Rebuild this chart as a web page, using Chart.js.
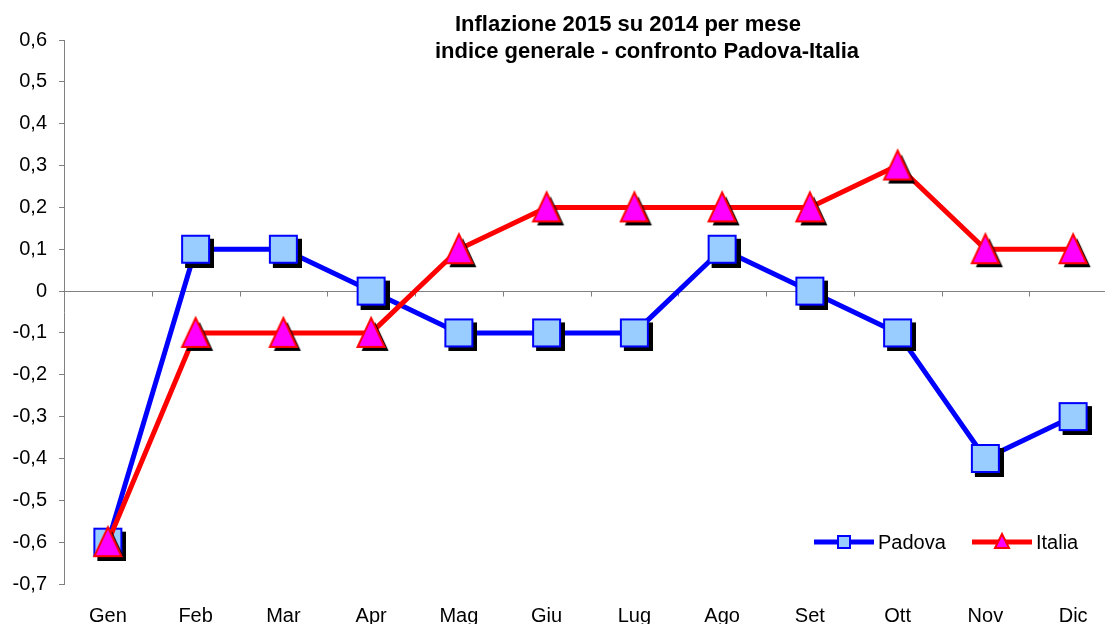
<!DOCTYPE html>
<html>
<head>
<meta charset="utf-8">
<script src="https://cdn.jsdelivr.net/npm/chart.js@4/dist/chart.umd.min.js"></script>
<style>
  html, body { margin: 0; padding: 0; background: #fff; overflow: hidden; }
  #wrap { position: absolute; left: 0; top: 0; width: 1105px; height: 624px; }
</style>
</head>
<body>
<div id="wrap"><canvas id="inflChart"></canvas></div>
<script>
// dati
const mesi = ["Gen", "Feb", "Mar", "Apr", "Mag", "Giu", "Lug", "Ago", "Set", "Ott", "Nov", "Dic"];
const padova = [-0.6, 0.1, 0.1, 0, -0.1, -0.1, -0.1, 0.1, 0, -0.1, -0.4, -0.3];
const italia = [-0.6, -0.1, -0.1, -0.1, 0.1, 0.2, 0.2, 0.2, 0.2, 0.3, 0.1, 0.1];
const yTickValues = [-0.7, -0.6, -0.5, -0.4, -0.3, -0.2, -0.1, 0, 0.1, 0.2, 0.3, 0.4, 0.5, 0.6];
const yTickLabels = ["-0,7", "-0,6", "-0,5", "-0,4", "-0,3", "-0,2", "-0,1", "0", "0,1", "0,2", "0,3", "0,4", "0,5", "0,6"];
const titolo = ["Inflazione 2015 su 2014 per mese", "indice generale - confronto Padova-Italia"];

const FONT = "'Liberation Sans', Arial, sans-serif";
// il grafico originale è tagliato a destra: l'area del grafico prosegue oltre il bordo
const PLOT_RIGHT = 1117;

// marker con ombra nera
function squareMarker(size, shadow) {
  const c = document.createElement("canvas");
  const half = size / 2 + 1 + shadow;
  c.width = c.height = half * 2;
  const g = c.getContext("2d");
  const o = shadow + 1;
  g.fillStyle = "#000";
  g.fillRect(o + shadow - 1, o + shadow - 1, size + 2, size + 2);
  g.fillStyle = "#99ccff";
  g.fillRect(o, o, size, size);
  g.strokeStyle = "#0000ff";
  g.lineWidth = 2;
  g.strokeRect(o, o, size, size);
  return c;
}

function triangleMarker(w, up, down, shadow) {
  const c = document.createElement("canvas");
  const half = Math.max(up, down, w / 2) + 1 + shadow;
  c.width = c.height = half * 2;
  const g = c.getContext("2d");
  const path = (dx) => {
    g.beginPath();
    g.moveTo(half + dx, half - up + dx);
    g.lineTo(half + w / 2 + dx, half + down + dx);
    g.lineTo(half - w / 2 + dx, half + down + dx);
    g.closePath();
  };
  path(shadow);
  g.fillStyle = "#000";
  g.fill();
  path(0);
  g.fillStyle = "#ff00ff";
  g.fill();
  g.strokeStyle = "#ff0000";
  g.lineWidth = 2;
  g.stroke();
  return c;
}

const sqPoint = squareMarker(27, 4);
const triPoint = triangleMarker(27, 15, 14, 4);

const extras = {
  id: "extras",
  afterLayout(chart) {
    const xs = chart.scales.x;
    xs.right = PLOT_RIGHT;
    xs.width = xs.right - xs.left;
    xs.configure();
    chart.chartArea.right = PLOT_RIGHT;
    chart.chartArea.width = PLOT_RIGHT - chart.chartArea.left;
  },
  beforeDatasetsDraw(chart) {
    const { ctx, chartArea, scales } = chart;
    const y0 = Math.round(scales.y.getPixelForValue(0)) + 0.5;
    const step = (chartArea.right - chartArea.left) / mesi.length;
    ctx.save();
    ctx.strokeStyle = "#808080";
    ctx.lineWidth = 1;
    ctx.beginPath();
    ctx.moveTo(chartArea.left, y0);
    ctx.lineTo(chartArea.right, y0);
    for (let i = 1; i <= mesi.length; i++) {
      const x = Math.round(chartArea.left + i * step) + 0.5;
      ctx.moveTo(x, y0);
      ctx.lineTo(x, y0 + 5);
    }
    ctx.stroke();
    ctx.restore();
  },
  afterDraw(chart) {
    const { ctx } = chart;
    ctx.save();
    // titolo
    ctx.fillStyle = "#000";
    ctx.font = "bold 22px " + FONT;
    ctx.textAlign = "center";
    ctx.textBaseline = "alphabetic";
    ctx.fillText(titolo[0], 628, 31);
    ctx.fillText(titolo[1], 647, 58);

    // legenda
    const ly = 542;
    const items = [
      { x: 814, color: "#0000ff", label: chart.data.datasets[1].label, kind: "sq" },
      { x: 972, color: "#ff0000", label: chart.data.datasets[0].label, kind: "tri" }
    ];
    items.forEach(it => {
      ctx.strokeStyle = it.color;
      ctx.lineWidth = 5;
      ctx.beginPath();
      ctx.moveTo(it.x, ly);
      ctx.lineTo(it.x + 60, ly);
      ctx.stroke();
      const cx = it.x + 30;
      ctx.lineWidth = 2;
      if (it.kind === "sq") {
        ctx.fillStyle = "#99ccff";
        ctx.fillRect(cx - 6, ly - 6, 12, 12);
        ctx.strokeStyle = "#0000ff";
        ctx.strokeRect(cx - 6, ly - 6, 12, 12);
      } else {
        ctx.beginPath();
        ctx.moveTo(cx, ly - 8);
        ctx.lineTo(cx + 7, ly + 6);
        ctx.lineTo(cx - 7, ly + 6);
        ctx.closePath();
        ctx.fillStyle = "#ff00ff";
        ctx.fill();
        ctx.strokeStyle = "#ff0000";
        ctx.stroke();
      }
      ctx.fillStyle = "#000";
      ctx.font = "20px " + FONT;
      ctx.textAlign = "left";
      ctx.textBaseline = "middle";
      ctx.fillText(it.label, it.x + 64, ly + 1);
    });
    ctx.restore();
  }
};

new Chart(document.getElementById("inflChart").getContext("2d"), {
  type: "line",
  data: {
    labels: mesi,
    datasets: [
      {
        label: "Italia",
        data: italia,
        borderColor: "#ff0000",
        borderWidth: 5,
        pointStyle: triPoint,
        pointRadius: 14,
        order: 0
      },
      {
        label: "Padova",
        data: padova,
        borderColor: "#0000ff",
        borderWidth: 5,
        pointStyle: sqPoint,
        pointRadius: 14,
        order: 1
      }
    ]
  },
  options: {
    responsive: true,
    maintainAspectRatio: false,
    animation: false,
    layout: { padding: { top: 40, right: 3, left: 0, bottom: 0 } },
    plugins: {
      legend: { display: false },
      title: { display: false },
      tooltip: { enabled: false }
    },
    elements: { line: { tension: 0 } },
    scales: {
      x: {
        offset: true,
        grid: { display: false, drawTicks: false },
        border: { display: false },
        ticks: { color: "#000", font: { family: FONT, size: 20 }, padding: 20, maxRotation: 0, autoSkip: false },
        afterFit(scale) { scale.height = 40; }
      },
      y: {
        min: -0.7,
        max: 0.6,
        afterBuildTicks(scale) { scale.ticks = yTickValues.map(v => ({ value: v })); },
        grid: { drawOnChartArea: false, drawTicks: true, tickLength: 5, color: "#808080" },
        border: { display: true, color: "#808080", width: 1 },
        ticks: {
          color: "#000",
          font: { family: FONT, size: 20 },
          padding: 12,
          callback: (v, i) => yTickLabels[i]
        },
        afterFit(scale) { scale.width = 64; }
      }
    }
  },
  plugins: [extras]
});
</script>
</body>
</html>
